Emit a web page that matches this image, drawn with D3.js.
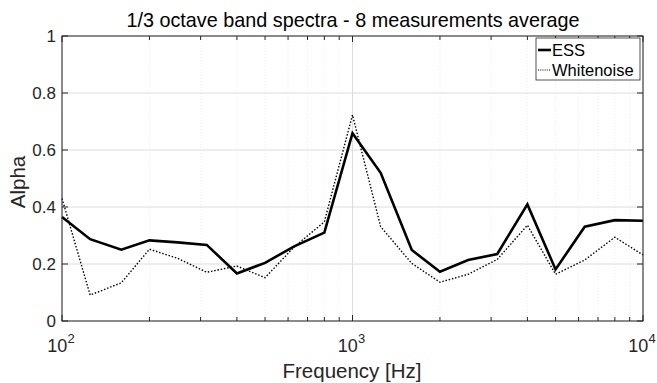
<!DOCTYPE html>
<html><head><meta charset="utf-8">
<script src="https://cdn.jsdelivr.net/npm/d3@7"></script>
<style>body{margin:0;background:#fff}svg{display:block}text{font-family:"Liberation Sans",Arial,Helvetica,sans-serif}</style>
</head><body><svg id="c" width="657" height="383"></svg>
<script>
const freqs = [100,125,160,200,250,315,400,500,630,800,1000,1250,1600,2000,2500,3150,4000,5000,6300,8000,10000];
const ess = [0.365,0.287,0.25,0.283,0.276,0.267,0.167,0.204,0.262,0.31,0.659,0.52,0.249,0.173,0.214,0.235,0.409,0.181,0.331,0.354,0.352];
const whitenoise = [0.43,0.091,0.134,0.252,0.22,0.171,0.193,0.152,0.26,0.348,0.723,0.331,0.202,0.136,0.164,0.216,0.336,0.164,0.214,0.294,0.232];
const yTicks = [0,0.2,0.4,0.6,0.8,1];
const xTickExps = [2,3,4];
const seriesNames = ["ESS","Whitenoise"];

const svg = d3.select("#c");
const L=62, R=643, T=36, B=321;
const x = d3.scaleLog().domain([100,10000]).range([L,R]);
const y = d3.scaleLinear().domain([0,1]).range([B,T]);
const axCol="#262626";

const minors=[];
[100,1000].forEach(d=>{for(let k=2;k<=9;k++) minors.push(d*k);});

const g=svg.append("g");
g.selectAll(".mg").data(minors).enter().append("line")
 .attr("x1",d=>x(d)).attr("x2",d=>x(d)).attr("y1",T).attr("y2",B)
 .attr("stroke","#e4e4e4").attr("stroke-width",0.6).attr("stroke-dasharray","1,2");
g.selectAll(".xg").data(xTickExps.map(e=>Math.pow(10,e))).enter().append("line")
 .attr("x1",d=>x(d)).attr("x2",d=>x(d)).attr("y1",T).attr("y2",B)
 .attr("stroke","#dcdcdc").attr("stroke-width",1);
g.selectAll(".yg").data(yTicks).enter().append("line")
 .attr("x1",L).attr("x2",R).attr("y1",d=>y(d)).attr("y2",d=>y(d))
 .attr("stroke","#dcdcdc").attr("stroke-width",1);

const line=(arr)=>d3.line().x((d,i)=>x(freqs[i])).y(d=>y(d))(arr);
svg.append("path").attr("d",line(whitenoise)).attr("fill","none").attr("stroke","#000")
 .attr("stroke-width",1.4).attr("stroke-dasharray","1.5,1.8");
svg.append("path").attr("d",line(ess)).attr("fill","none").attr("stroke","#000")
 .attr("stroke-width",2.6).attr("stroke-linejoin","miter");

const ax=svg.append("g");
ax.append("rect").attr("x",L).attr("y",T).attr("width",R-L).attr("height",B-T)
 .attr("fill","none").attr("stroke",axCol).attr("stroke-width",1);
const majors=xTickExps.map(e=>Math.pow(10,e));
minors.concat(majors).forEach(d=>{
  const len = majors.includes(d)?6:4;
  ax.append("line").attr("x1",x(d)).attr("x2",x(d)).attr("y1",B).attr("y2",B-len).attr("stroke",axCol);
  ax.append("line").attr("x1",x(d)).attr("x2",x(d)).attr("y1",T).attr("y2",T+len).attr("stroke",axCol);
});
yTicks.forEach(d=>{
  ax.append("line").attr("x1",L).attr("x2",L+6).attr("y1",y(d)).attr("y2",y(d)).attr("stroke",axCol);
  ax.append("line").attr("x1",R).attr("x2",R-6).attr("y1",y(d)).attr("y2",y(d)).attr("stroke",axCol);
  ax.append("text").attr("x",L-6).attr("y",y(d)+6).attr("text-anchor","end")
   .attr("font-size",17).attr("fill",axCol).text(d3.format("~g")(d));
});
xTickExps.forEach(e=>{
  const t=ax.append("text").attr("x",x(Math.pow(10,e))-1).attr("y",352).attr("text-anchor","middle")
   .attr("font-size",18).attr("fill",axCol);
  t.append("tspan").text("10");
  t.append("tspan").attr("dy",-9).attr("font-size",13).text(e);
});

svg.append("text").attr("x",353).attr("y",27).attr("text-anchor","middle").attr("font-size",19.8)
 .attr("fill","#000").text("1/3 octave band spectra - 8 measurements average");
svg.append("text").attr("x",352).attr("y",378).attr("text-anchor","middle").attr("font-size",20.5)
 .attr("fill",axCol).text("Frequency [Hz]");
svg.append("text").attr("transform","translate(25,182) rotate(-90)").attr("text-anchor","middle")
 .attr("font-size",20.5).attr("fill",axCol).text("Alpha");

const lg=svg.append("g");
lg.append("rect").attr("x",536).attr("y",38).attr("width",104).attr("height",42)
 .attr("fill","#fff").attr("stroke","#262626").attr("stroke-width",0.8);
seriesNames.forEach((n,i)=>{
  const yy=50+i*20;
  lg.append("line").attr("x1",538).attr("x2",551).attr("y1",yy).attr("y2",yy).attr("stroke","#000")
   .attr("stroke-width",i===0?2.6:1.2).attr("stroke-dasharray",i===0?null:"1,1.2");
  lg.append("text").attr("x",552).attr("y",yy+6).attr("font-size",16.5).attr("fill","#000").text(n);
});
</script></body></html>
